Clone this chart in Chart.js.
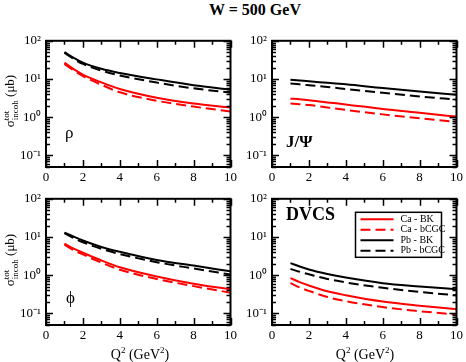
<!DOCTYPE html>
<html lang="en">
<head>
<meta charset="UTF-8">
<title>W = 500 GeV</title>
<script src="https://cdn.jsdelivr.net/npm/chart.js"></script>
<style>
    body { margin: 0; background: #fff; }
    #wrap { position: relative; width: 466px; height: 362px; overflow: hidden; font-family: "Liberation Serif", serif; color: #000; }
    canvas { position: absolute; }
    .txt { position: absolute; white-space: nowrap; line-height: 1; }
    .title { left: 255px; top: 2px; transform: translateX(-50%); font-size: 16px; font-weight: bold; }
    .ytitle { font-size: 13px; transform: translate(-50%, -50%) rotate(-90deg); }
    .ss { display: inline-block; vertical-align: middle; font-size: 9px; line-height: 9px; text-align: left; }
    .ss span { display: block; }
    .xtitle { font-size: 14px; transform: translateX(-50%); top: 346px; }
    .xtitle sup { font-size: 9px; vertical-align: 6px; }
</style>
</head>
<body>
<div id="wrap">
    <canvas id="rho" width="240" height="160" style="left:0;top:28px"></canvas>
    <canvas id="jpsi" width="226" height="160" style="left:240px;top:28px"></canvas>
    <canvas id="phi" width="240" height="160" style="left:0;top:186px"></canvas>
    <canvas id="dvcs" width="226" height="160" style="left:240px;top:186px"></canvas>

    <div class="txt title">W = 500 GeV</div>
    <div class="txt ytitle" style="left:11px;top:101px">σ<span class="ss"><span>tot</span><span>incoh</span></span> (μb)</div>
    <div class="txt ytitle" style="left:11px;top:260px">σ<span class="ss"><span>tot</span><span>incoh</span></span> (μb)</div>
    <div class="txt xtitle" style="left:140px">Q<sup>2</sup> (GeV<sup>2</sup>)</div>
    <div class="txt xtitle" style="left:365px">Q<sup>2</sup> (GeV<sup>2</sup>)</div>

    <div class="txt" style="left:65px;top:124px;font-size:17px">ρ</div>
    <div class="txt" style="left:286px;top:133px;font-size:17px;font-weight:bold">J/Ψ</div>
    <div class="txt" style="left:66px;top:289px;font-size:17px">ϕ</div>
    <div class="txt" style="left:286px;top:205px;font-size:18px;font-weight:bold">DVCS</div>
</div>

<script>
    // Q^2 values (GeV^2) where the curves were read
    const q2 = [1, 1.5, 2, 3, 4, 6, 8, 10];

    // rho
    const rhoCaBK   = [26.8, 18.2, 13.1, 8.2, 5.5, 3.25, 2.3, 1.79];
    const rhoCaCGC  = [24.8, 16.8, 11.9, 7.1, 4.5, 2.7, 1.9, 1.42];
    const rhoPbBK   = [50.8, 36, 26.8, 18.5, 14.4, 9.8, 6.9, 5.3];
    const rhoPbCGC  = [48, 33.5, 24.8, 16.5, 12.4, 8.1, 5.7, 4.4];

    // J/Psi
    const jpsiCaBK  = [3.07, 2.95, 2.8, 2.45, 2.17, 1.65, 1.31, 1.04];
    const jpsiCaCGC = [2.3, 2.2, 2.09, 1.8, 1.56, 1.19, 0.94, 0.76];
    const jpsiPbBK  = [9.6, 9.15, 8.7, 8.0, 7.3, 5.8, 4.7, 3.9];
    const jpsiPbCGC = [7.6, 7.25, 6.9, 6.2, 5.5, 4.35, 3.5, 2.9];

    // phi
    const phiCaBK   = [6.7, 4.95, 3.9, 2.45, 1.62, 0.93, 0.6, 0.43];
    const phiCaCGC  = [6.3, 4.55, 3.5, 2.15, 1.4, 0.8, 0.52, 0.35];
    const phiPbBK   = [13.1, 10.2, 8.1, 5.5, 4.1, 2.5, 1.79, 1.27];
    const phiPbCGC  = [12.6, 9.4, 7.3, 4.9, 3.6, 2.2, 1.5, 1.04];

    // DVCS
    const dvcsCaBK  = [0.84, 0.66, 0.54, 0.38, 0.30, 0.205, 0.16, 0.13];
    const dvcsCaCGC = [0.62, 0.48, 0.39, 0.27, 0.21, 0.147, 0.115, 0.094];
    const dvcsPbBK  = [2.08, 1.7, 1.42, 1.08, 0.87, 0.62, 0.51, 0.43];
    const dvcsPbCGC = [1.47, 1.23, 1.06, 0.8, 0.65, 0.47, 0.366, 0.30];

    const seriesNames = ['Ca - BK', 'Ca - bCGC', 'Pb - BK', 'Pb - bCGC'];
    const xTicks = [0, 2, 4, 6, 8, 10];
    const yTicks = [0.1, 1, 10, 100];
    const yTickLabels = ['10⁻¹', '10⁰', '10¹', '10²'];

    const FONT = '"Liberation Serif", serif';
    const styles = [
        {color: '#ff0000', dash: []},
        {color: '#ff0000', dash: [10, 5]},
        {color: '#000000', dash: []},
        {color: '#000000', dash: [10, 5]}
    ];

    // inward ticks on all four sides + frame
    const framePlugin = {
        id: 'frame',
        afterDraw(chart) {
            const {ctx, chartArea: a, scales: {x, y}} = chart;
            ctx.save();
            ctx.strokeStyle = '#000';
            ctx.lineWidth = 1.5;
            ctx.beginPath();
            for (let v = 0; v <= 10; v++) {
                const px = Math.round(x.getPixelForValue(v)) + 0.5;
                const len = v % 2 === 0 ? 7 : 4;
                ctx.moveTo(px, a.bottom); ctx.lineTo(px, a.bottom - len);
                ctx.moveTo(px, a.top); ctx.lineTo(px, a.top + len);
            }
            for (let e = -2; e <= 2; e++) {
                for (let m = 1; m <= 9; m++) {
                    const v = m * Math.pow(10, e);
                    if (v < y.min || v > y.max) continue;
                    const py = Math.round(y.getPixelForValue(v)) + 0.5;
                    const len = m === 1 ? 7 : 4;
                    ctx.moveTo(a.left, py); ctx.lineTo(a.left + len, py);
                    ctx.moveTo(a.right, py); ctx.lineTo(a.right - len, py);
                }
            }
            ctx.stroke();
            ctx.lineWidth = 2;
            ctx.strokeRect(a.left, a.top, a.width, a.height);
            ctx.restore();
        }
    };

    // boxed legend in the upper right of the DVCS panel
    const legendPlugin = {
        id: 'boxLegend',
        afterDraw(chart, args, opts) {
            if (!opts.show) return;
            const {ctx, chartArea: a} = chart;
            const bx = a.right - 101, by = a.top + 13.5, bw = 86, bh = 45;
            ctx.save();
            ctx.fillStyle = '#fff';
            ctx.fillRect(bx, by, bw, bh);
            ctx.strokeStyle = '#000';
            ctx.lineWidth = 1.5;
            ctx.strokeRect(bx, by, bw, bh);
            ctx.font = '10px ' + FONT;
            ctx.textBaseline = 'middle';
            chart.data.datasets.forEach((ds, i) => {
                const ry = by + 7 + i * 10.5;
                ctx.beginPath();
                ctx.strokeStyle = ds.borderColor;
                ctx.lineWidth = 2;
                ctx.setLineDash(ds.borderDash);
                ctx.moveTo(bx + 5, ry);
                ctx.lineTo(bx + 38, ry);
                ctx.stroke();
                ctx.setLineDash([]);
                ctx.fillStyle = '#000';
                ctx.fillText(ds.label, bx + 45, ry);
            });
            ctx.restore();
        }
    };

    function makePanel(id, series, yWidth, padRight, showLegend) {
        new Chart(document.getElementById(id), {
            type: 'line',
            data: {
                datasets: series.map((vals, i) => ({
                    label: seriesNames[i],
                    data: q2.map((q, k) => ({x: q, y: vals[k]})),
                    borderColor: styles[i].color,
                    borderDash: styles[i].dash,
                    borderWidth: 2,
                    pointRadius: 0,
                    fill: false,
                    cubicInterpolationMode: 'monotone'
                }))
            },
            options: {
                responsive: false,
                animation: false,
                devicePixelRatio: 1,
                layout: {padding: {left: 0, top: 8, right: padRight, bottom: 0}},
                plugins: {
                    legend: {display: false},
                    tooltip: {enabled: false},
                    boxLegend: {show: showLegend}
                },
                scales: {
                    x: {
                        type: 'linear',
                        min: 0, max: 10,
                        grid: {display: false, drawTicks: false},
                        border: {display: false},
                        afterBuildTicks: s => { s.ticks = xTicks.map(v => ({value: v})); },
                        afterFit: s => { s.height = 21; },
                        ticks: {color: '#000', padding: 3, maxRotation: 0, font: {family: FONT, size: 13}}
                    },
                    y: {
                        type: 'logarithmic',
                        min: 0.05, max: 100,
                        grid: {display: false, drawTicks: false},
                        border: {display: false},
                        afterBuildTicks: s => { s.ticks = yTicks.map(v => ({value: v})); },
                        afterFit: s => { s.width = yWidth; },
                        ticks: {
                            color: '#000', padding: 5, font: {family: FONT, size: 13},
                            callback: (v, i) => yTickLabels[i]
                        }
                    }
                }
            },
            plugins: [framePlugin, legendPlugin]
        });
    }

    makePanel('rho',  [rhoCaBK, rhoCaCGC, rhoPbBK, rhoPbCGC], 46, 7, false);
    makePanel('jpsi', [jpsiCaBK, jpsiCaCGC, jpsiPbBK, jpsiPbCGC], 32, 8, false);
    makePanel('phi',  [phiCaBK, phiCaCGC, phiPbBK, phiPbCGC], 46, 7, false);
    makePanel('dvcs', [dvcsCaBK, dvcsCaCGC, dvcsPbBK, dvcsPbCGC], 32, 8, true);
</script>
</body>
</html>
